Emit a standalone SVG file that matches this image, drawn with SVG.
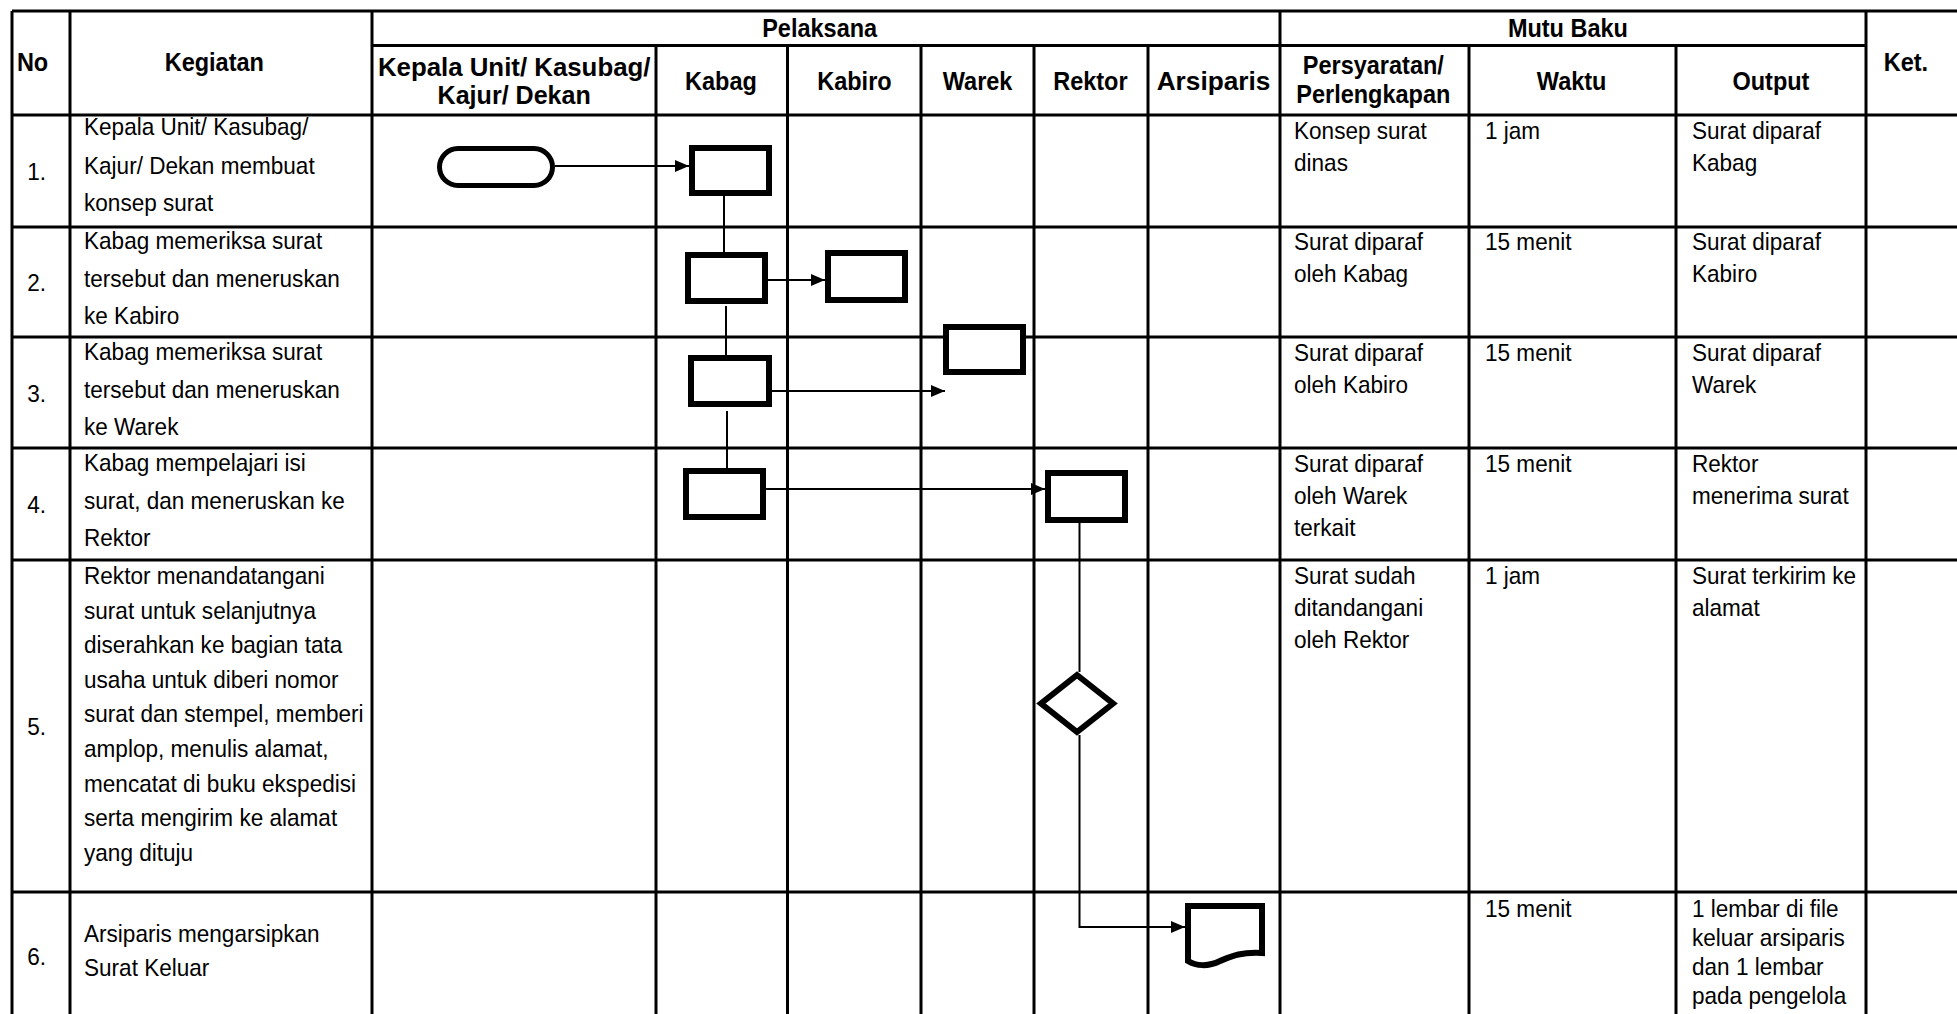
<svg xmlns="http://www.w3.org/2000/svg" width="1957" height="1014" viewBox="0 0 1957 1014">
<style>
  .grid { stroke: #000; stroke-width: 3; fill: none; }
  .h { font-family: "Liberation Sans", Arial, sans-serif; font-size: 25px; font-weight: bold; fill: #000; }
  .t { font-family: "Liberation Sans", Arial, sans-serif; font-size: 24px; fill: #000; }
  .c { text-anchor: middle; }
  .box { fill: #fff; stroke: #000; stroke-width: 6; }
  .con { stroke: #000; stroke-width: 2; fill: none; }
</style>
<defs>
  <marker id="arr" viewBox="0 0 14 12" refX="14" refY="6" markerWidth="14" markerHeight="12" markerUnits="userSpaceOnUse" orient="auto">
    <path d="M0,0 L14,6 L0,12 Z" fill="#000"/>
  </marker>
</defs>
<rect x="0" y="0" width="1957" height="1014" fill="#fff"/>

<g id="table">
  <line class="grid" x1="12" y1="11" x2="1957" y2="11"/>
  <line class="grid" x1="372" y1="45.5" x2="1865" y2="45.5"/>
  <line class="grid" x1="12" y1="115" x2="1957" y2="115"/>
  <line class="grid" x1="12" y1="227" x2="1957" y2="227"/>
  <line class="grid" x1="12" y1="337" x2="1957" y2="337"/>
  <line class="grid" x1="12" y1="448" x2="1957" y2="448"/>
  <line class="grid" x1="12" y1="560" x2="1957" y2="560"/>
  <line class="grid" x1="12" y1="892" x2="1957" y2="892"/>
  <line class="grid" x1="12" y1="11" x2="12" y2="1014"/>
  <line class="grid" x1="70" y1="11" x2="70" y2="1014"/>
  <line class="grid" x1="372" y1="11" x2="372" y2="1014"/>
  <line class="grid" x1="656" y1="45.5" x2="656" y2="1014"/>
  <line class="grid" x1="787.5" y1="45.5" x2="787.5" y2="1014"/>
  <line class="grid" x1="921" y1="45.5" x2="921" y2="1014"/>
  <line class="grid" x1="1034" y1="45.5" x2="1034" y2="1014"/>
  <line class="grid" x1="1148" y1="45.5" x2="1148" y2="1014"/>
  <line class="grid" x1="1280" y1="11" x2="1280" y2="1014"/>
  <line class="grid" x1="1469" y1="45.5" x2="1469" y2="1014"/>
  <line class="grid" x1="1676" y1="45.5" x2="1676" y2="1014"/>
  <line class="grid" x1="1866" y1="11" x2="1866" y2="1014"/>
</g>

<!-- all text is condensed horizontally by 0.94; x values are divided by 0.94 -->
<g id="header" transform="scale(0.94,1)">
  <text class="h" x="18" y="71">No</text>
  <text class="h c" x="228" y="71">Kegiatan</text>
  <text class="h c" x="872" y="37">Pelaksana</text>
  <text class="h c" x="1668" y="37">Mutu Baku</text>
  <text class="h" x="2004" y="71">Ket.</text>
  <text class="h c" x="547" y="76" textLength="290" lengthAdjust="spacingAndGlyphs">Kepala Unit/ Kasubag/</text>
  <text class="h c" x="547" y="104" textLength="163" lengthAdjust="spacingAndGlyphs">Kajur/ Dekan</text>
  <text class="h c" x="767" y="90">Kabag</text>
  <text class="h c" x="909" y="90">Kabiro</text>
  <text class="h c" x="1040" y="90">Warek</text>
  <text class="h c" x="1160" y="90">Rektor</text>
  <text class="h c" x="1291" y="90" textLength="121" lengthAdjust="spacingAndGlyphs">Arsiparis</text>
  <text class="h c" x="1461" y="74">Persyaratan/</text>
  <text class="h c" x="1461" y="103">Perlengkapan</text>
  <text class="h c" x="1672" y="90">Waktu</text>
  <text class="h c" x="1884" y="90">Output</text>
</g>

<g id="body" transform="scale(0.94,1)">
<g id="row1">
  <text class="t" x="29" y="180">1.</text>
  <text class="t" x="89.4" y="135">Kepala Unit/ Kasubag/</text>
  <text class="t" x="89.4" y="174">Kajur/ Dekan membuat</text>
  <text class="t" x="89.4" y="211">konsep surat</text>
  <text class="t" x="1376.6" y="139">Konsep surat</text>
  <text class="t" x="1376.6" y="171">dinas</text>
  <text class="t" x="1579.8" y="139">1 jam</text>
  <text class="t" x="1800" y="139">Surat diparaf</text>
  <text class="t" x="1800" y="171">Kabag</text>
</g>
<g id="row2">
  <text class="t" x="29" y="291">2.</text>
  <text class="t" x="89.4" y="249">Kabag memeriksa surat</text>
  <text class="t" x="89.4" y="287">tersebut dan meneruskan</text>
  <text class="t" x="89.4" y="324">ke Kabiro</text>
  <text class="t" x="1376.6" y="250">Surat diparaf</text>
  <text class="t" x="1376.6" y="282">oleh Kabag</text>
  <text class="t" x="1579.8" y="250">15 menit</text>
  <text class="t" x="1800" y="250">Surat diparaf</text>
  <text class="t" x="1800" y="282">Kabiro</text>
</g>
<g id="row3">
  <text class="t" x="29" y="402">3.</text>
  <text class="t" x="89.4" y="360">Kabag memeriksa surat</text>
  <text class="t" x="89.4" y="398">tersebut dan meneruskan</text>
  <text class="t" x="89.4" y="435">ke Warek</text>
  <text class="t" x="1376.6" y="361">Surat diparaf</text>
  <text class="t" x="1376.6" y="393">oleh Kabiro</text>
  <text class="t" x="1579.8" y="361">15 menit</text>
  <text class="t" x="1800" y="361">Surat diparaf</text>
  <text class="t" x="1800" y="393">Warek</text>
</g>
<g id="row4">
  <text class="t" x="29" y="513">4.</text>
  <text class="t" x="89.4" y="471">Kabag mempelajari isi</text>
  <text class="t" x="89.4" y="509">surat, dan meneruskan ke</text>
  <text class="t" x="89.4" y="546">Rektor</text>
  <text class="t" x="1376.6" y="472">Surat diparaf</text>
  <text class="t" x="1376.6" y="504">oleh Warek</text>
  <text class="t" x="1376.6" y="536">terkait</text>
  <text class="t" x="1579.8" y="472">15 menit</text>
  <text class="t" x="1800" y="472">Rektor</text>
  <text class="t" x="1800" y="504">menerima surat</text>
</g>
<g id="row5">
  <text class="t" x="29" y="735">5.</text>
  <text class="t" x="89.4" y="584">Rektor menandatangani</text>
  <text class="t" x="89.4" y="618.6">surat untuk selanjutnya</text>
  <text class="t" x="89.4" y="653.2">diserahkan ke bagian tata</text>
  <text class="t" x="89.4" y="687.8">usaha untuk diberi nomor</text>
  <text class="t" x="89.4" y="722.4">surat dan stempel, memberi</text>
  <text class="t" x="89.4" y="757">amplop, menulis alamat,</text>
  <text class="t" x="89.4" y="791.6">mencatat di buku ekspedisi</text>
  <text class="t" x="89.4" y="826.2">serta  mengirim ke alamat</text>
  <text class="t" x="89.4" y="860.8">yang dituju</text>
  <text class="t" x="1376.6" y="584">Surat sudah</text>
  <text class="t" x="1376.6" y="616">ditandangani</text>
  <text class="t" x="1376.6" y="648">oleh Rektor</text>
  <text class="t" x="1579.8" y="584">1 jam</text>
  <text class="t" x="1800" y="584">Surat terkirim ke</text>
  <text class="t" x="1800" y="616">alamat</text>
</g>
<g id="row6">
  <text class="t" x="29" y="965">6.</text>
  <text class="t" x="89.4" y="942">Arsiparis mengarsipkan</text>
  <text class="t" x="89.4" y="976">Surat Keluar</text>
  <text class="t" x="1579.8" y="917">15 menit</text>
  <text class="t" x="1800" y="917">1 lembar di file</text>
  <text class="t" x="1800" y="946">keluar arsiparis</text>
  <text class="t" x="1800" y="975">dan 1 lembar</text>
  <text class="t" x="1800" y="1004">pada pengelola</text>
</g>
</g>

<g id="connectors">
  <line class="con" x1="555" y1="166" x2="689" y2="166" marker-end="url(#arr)"/>
  <line class="con" x1="724" y1="196" x2="724" y2="252"/>
  <line class="con" x1="768" y1="280" x2="825" y2="280" marker-end="url(#arr)"/>
  <line class="con" x1="726" y1="306" x2="726" y2="355"/>
  <line class="con" x1="772" y1="391" x2="945" y2="391" marker-end="url(#arr)"/>
  <line class="con" x1="727" y1="411" x2="727" y2="468"/>
  <line class="con" x1="766" y1="489" x2="1045" y2="489" marker-end="url(#arr)"/>
  <line class="con" x1="1079.5" y1="523" x2="1079.5" y2="672"/>
  <polyline class="con" points="1079.5,735 1079.5,927 1185,927" marker-end="url(#arr)"/>
</g>

<g id="start"><rect x="439.5" y="148.5" width="113" height="37" rx="18.5" ry="18.5" fill="#fff" stroke="#000" stroke-width="5"/></g>
<g id="kabag1"><rect class="box" x="692" y="148" width="77" height="45"/></g>
<g id="kabag2"><rect class="box" x="688" y="255" width="77" height="46"/></g>
<g id="kabiro2"><rect class="box" x="828" y="253" width="77" height="47"/></g>
<g id="kabag3"><rect class="box" x="691" y="358" width="78" height="46"/></g>
<g id="warek3"><rect class="box" x="946" y="327" width="77" height="45"/></g>
<g id="kabag4"><rect class="box" x="686" y="471" width="77" height="46"/></g>
<g id="rektor4"><rect class="box" x="1048" y="473" width="77" height="47"/></g>
<g id="decision5"><polygon class="box" points="1077,675 1113,703.5 1077,732 1041,703.5"/></g>
<g id="document6"><path class="box" d="M1188,906 H1262 V953 C1240,952 1232,956 1220,961 C1208,967 1196,966 1188,961 Z"/></g>
</svg>
